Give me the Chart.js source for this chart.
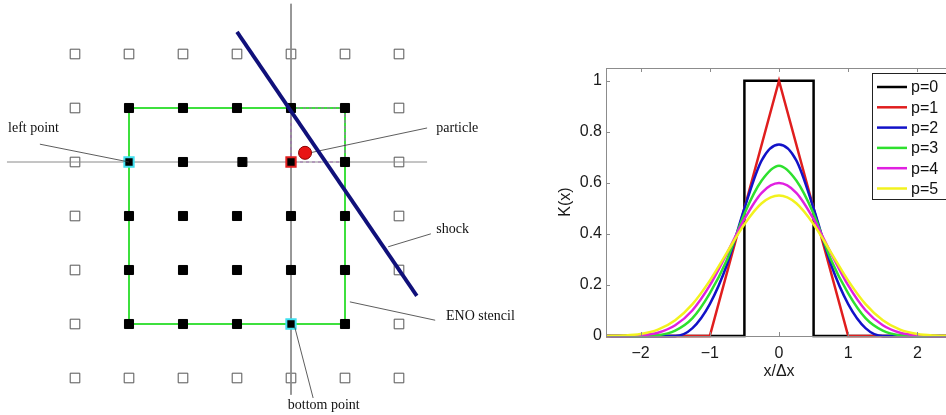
<!DOCTYPE html>
<html>
<head>
<meta charset="utf-8">
<script src="https://cdn.jsdelivr.net/npm/chart.js@4.4.1/dist/chart.umd.min.js"></script>
<style>
  html, body { margin: 0; padding: 0; background: #fff; overflow: hidden; }
  #wrap { position: relative; width: 946px; height: 415px; overflow: hidden; }
  #gridChart   { position: absolute; left: 0; top: 0; }
  #kernelChart { position: absolute; left: 540px; top: 0; }
</style>
</head>
<body>
<div id="wrap">
  <canvas id="gridChart" width="540" height="415"></canvas>
  <canvas id="kernelChart" width="420" height="415"></canvas>
</div>
<script>
// ---------------------------
// Left panel data (grid units: column i, row j, row 0 at top)
// ---------------------------
const ringNodes = [
  [0,0],[1,0],[2,0],[3,0],[4,0],[5,0],[6,0],
  [0,1],[6,1],[0,2],[6,2],[0,3],[6,3],[0,4],[6,4],[0,5],[6,5],
  [0,6],[1,6],[2,6],[3,6],[4,6],[5,6],[6,6]
];
const stencilNodes = [
  [1,1],[2,1],[3,1],[4,1],[5,1],
  [2,2],[3.1,2],[5,2],
  [1,3],[2,3],[3,3],[4,3],[5,3],
  [1,4],[2,4],[3,4],[4,4],[5,4],
  [1,5],[2,5],[3,5],[5,5]
];
const endNodes     = [[1,2],[4,5]];          // left point, bottom point
const cellNode     = [[4,2]];
const particlePos  = [[4.26,1.83]];
const stencilPath  = [[5,1],[1,1],[1,5],[5,5],[5,1]];
const cellPath     = [[4,2],[4,1],[5,1],[5,2],[4,2]];
const xAxisLine    = [[-1.26,2],[6.52,2]];
const yAxisLine    = [[4,-0.93],[4,6.31]];
const shockLine    = [[3.0,-0.41],[6.33,4.48]];
const leaders = [
  [[-0.65,1.67],[1,2]],
  [[4.35,1.83],[6.52,1.37]],
  [[5.80,3.57],[6.59,3.33]],
  [[5.09,4.59],[6.67,4.93]],
  [[4.07,5.06],[4.41,6.37]]
];
const gridLabels = [
  { text: "left point",   x: -1.24, y: 1.37 },
  { text: "particle",     x: 6.69,  y: 1.37 },
  { text: "shock",        x: 6.69,  y: 3.24 },
  { text: "ENO stencil",  x: 6.87,  y: 4.85 },
  { text: "bottom point", x: 3.94,  y: 6.50 }
];

// ---------------------------
// Right panel data: kernels K(x) vs x/dx
// ---------------------------
const kx  = [-2.5,-2.25,-2,-1.75,-1.5,-1.25,-1,-0.75,-0.5,-0.25,0,0.25,0.5,0.75,1,1.25,1.5,1.75,2,2.25,2.5];
const kP2 = [0,0,0,0,0,0.031,0.125,0.281,0.5,0.688,0.75,0.688,0.5,0.281,0.125,0.031,0,0,0,0,0];
const kP3 = [0,0,0,0.003,0.021,0.070,0.167,0.300,0.479,0.609,0.667,0.609,0.479,0.300,0.167,0.070,0.021,0.003,0,0,0];
const kP4 = [0,0.0002,0.003,0.013,0.042,0.101,0.198,0.325,0.458,0.561,0.599,0.561,0.458,0.325,0.198,0.101,0.042,0.013,0.003,0.0002,0];
const kP5 = [0.0003,0.002,0.008,0.025,0.062,0.125,0.217,0.328,0.438,0.520,0.550,0.520,0.438,0.328,0.217,0.125,0.062,0.025,0.008,0.002,0.0003];
const kP0x = [-2.5,-0.5,-0.5,0.5,0.5,2.5];
const kP0y = [0,0,1,1,0,0];
const kP1x = [-2.5,-1,0,1,2.5];
const kP1y = [0,0,1,0,0];

const xTicks      = [-2,-1,0,1,2];
const xTickLabels = ["\u22122","\u22121","0","1","2"];
const yTicks      = [0,0.2,0.4,0.6,0.8,1];
const yTickLabels = ["0","0.2","0.4","0.6","0.8","1"];

// ---------------------------
// Helpers
// ---------------------------
const pts = arr => arr.map(([x, y]) => ({ x, y }));
const zip = (xs, ys) => xs.map((x, i) => ({ x, y: ys[i] }));

function lineSet(data, color, width, dash) {
  return { data: pts(data), showLine: true, borderColor: color, borderWidth: width,
           borderDash: dash || [], pointRadius: 0, fill: false, tension: 0 };
}
function nodeSet(data, fill, stroke, width, r) {
  return { data: pts(data), pointStyle: "rect", pointRadius: r, backgroundColor: fill,
           borderColor: stroke, pointBorderWidth: width, showLine: false };
}

// ---------------------------
// Left panel chart
// ---------------------------
const gridLabelPlugin = {
  id: "gridLabels",
  afterDatasetsDraw(chart) {
    const { ctx, scales: { x, y } } = chart;
    ctx.save();
    ctx.font = "14px 'Liberation Serif', 'Times New Roman', serif";
    ctx.fillStyle = "#111";
    ctx.textAlign = "left";
    ctx.textBaseline = "middle";
    gridLabels.forEach(l => ctx.fillText(l.text, x.getPixelForValue(l.x), y.getPixelForValue(l.y)));
    ctx.restore();
  }
};

// listed top-most first (Chart.js draws dataset 0 last)
const gridDatasets = [
  { data: pts(particlePos), pointStyle: "circle", pointRadius: 6.5, backgroundColor: "#e81414",
    borderColor: "#8a0000", pointBorderWidth: 1 },
  lineSet(shockLine, "#10107a", 3.8),
  ...leaders.map(l => lineSet(l, "#333", 0.8)),
  nodeSet(cellNode, "#000", "#e02020", 2, 6.6),
  nodeSet(endNodes, "#000", "#40e0f0", 2, 6.6),
  nodeSet(stencilNodes, "#000", "#000", 1, 6.4),
  lineSet(cellPath, "#a070b0", 1.2, [3, 3]),
  lineSet(stencilPath, "#3ee03e", 2),
  lineSet(xAxisLine, "#8a8a8a", 1),
  lineSet(yAxisLine, "#8a8a8a", 1),
  nodeSet(ringNodes, "rgba(0,0,0,0)", "#555", 1, 6.8)
];

new Chart(document.getElementById("gridChart"), {
  type: "scatter",
  data: { datasets: gridDatasets },
  options: {
    responsive: false,
    animation: false,
    events: [],
    layout: { padding: 0, autoPadding: false },
    plugins: { legend: { display: false }, tooltip: { enabled: false } },
    scales: {
      x: { type: "linear", display: false, min: -75 / 54, max: (540 - 75) / 54 },
      y: { type: "linear", display: false, min: -1, max: (415 - 54) / 54, reverse: true }
    }
  },
  plugins: [gridLabelPlugin]
});

// ---------------------------
// Right panel chart
// ---------------------------
const frameAndTicks = {
  id: "frameAndTicks",
  afterDatasetsDraw(chart) {
    const { ctx, chartArea: a, scales: { x, y } } = chart;
    ctx.save();
    ctx.strokeStyle = "#8c8c8c";
    ctx.lineWidth = 1;
    ctx.strokeRect(a.left + 0.5, a.top + 0.5, a.right - a.left, a.bottom - a.top);
    ctx.beginPath();
    xTicks.forEach(v => {
      const px = Math.round(x.getPixelForValue(v)) + 0.5;
      ctx.moveTo(px, a.bottom); ctx.lineTo(px, a.bottom - 4);
      ctx.moveTo(px, a.top);    ctx.lineTo(px, a.top + 4);
    });
    yTicks.forEach(v => {
      const py = Math.round(y.getPixelForValue(v)) + 0.5;
      ctx.moveTo(a.left, py);  ctx.lineTo(a.left + 4, py);
      ctx.moveTo(a.right, py); ctx.lineTo(a.right - 4, py);
    });
    ctx.stroke();

    // legend box inside the axes, matlab style
    const bx = 332, by = 73, bw = 90, rowH = 20.3;
    ctx.fillStyle = "#fff";
    ctx.fillRect(bx, by, bw, 126);
    ctx.strokeStyle = "#222";
    ctx.strokeRect(bx + 0.5, by + 0.5, bw, 126);
    ctx.font = "16px 'Liberation Sans', Arial, sans-serif";
    ctx.textBaseline = "middle";
    ctx.textAlign = "left";
    chart.data.datasets.forEach((ds, i) => {
      const cy = by + 14 + i * rowH;
      ctx.strokeStyle = ds.borderColor;
      ctx.lineWidth = 2.5;
      ctx.beginPath();
      ctx.moveTo(bx + 5, cy); ctx.lineTo(bx + 35, cy);
      ctx.stroke();
      ctx.fillStyle = "#111";
      ctx.fillText(ds.label, bx + 39, cy + 1);
    });
    ctx.restore();
  }
};

const tickFont = { family: "'Liberation Sans', Arial, sans-serif", size: 16 };

new Chart(document.getElementById("kernelChart"), {
  type: "line",
  data: {
    datasets: [
      { label: "p=0", data: zip(kP0x, kP0y), borderColor: "#000000", tension: 0, order: 5 },
      { label: "p=1", data: zip(kP1x, kP1y), borderColor: "#e01e1e", tension: 0, order: 4 },
      { label: "p=2", data: zip(kx, kP2), borderColor: "#1212c8", cubicInterpolationMode: "monotone", order: 3 },
      { label: "p=3", data: zip(kx, kP3), borderColor: "#2ee02e", cubicInterpolationMode: "monotone", order: 2 },
      { label: "p=4", data: zip(kx, kP4), borderColor: "#e020e0", cubicInterpolationMode: "monotone", order: 1 },
      { label: "p=5", data: zip(kx, kP5), borderColor: "#f2f21e", cubicInterpolationMode: "monotone", order: 0 }
    ].map(d => Object.assign({ borderWidth: 2.5, pointRadius: 0, fill: false, clip: 4 }, d))
  },
  options: {
    responsive: false,
    animation: false,
    events: [],
    layout: { padding: { top: 68, right: 8, bottom: 0, left: 0 }, autoPadding: false },
    plugins: { legend: { display: false }, tooltip: { enabled: false } },
    scales: {
      x: {
        type: "linear", min: -2.5, max: 2.5,
        afterBuildTicks: s => { s.ticks = xTicks.map(v => ({ value: v })); },
        afterFit: s => { s.height = 79; },
        grid: { display: false, drawTicks: false },
        border: { display: false },
        ticks: { font: tickFont, color: "#1a1a1a", padding: 8, maxRotation: 0,
                 callback: (v, i) => xTickLabels[i] },
        title: { display: true, text: "x/\u0394x", font: tickFont, color: "#1a1a1a",
                 padding: { top: 0, bottom: 34 } }
      },
      y: {
        type: "linear", min: 0, max: 1.05,
        afterBuildTicks: s => { s.ticks = yTicks.map(v => ({ value: v })); },
        afterFit: s => { s.width = 66; },
        grid: { display: false, drawTicks: false },
        border: { display: false },
        ticks: { font: tickFont, color: "#1a1a1a", padding: 4,
                 callback: (v, i) => yTickLabels[i] },
        title: { display: true, text: "K(x)", font: tickFont, color: "#1a1a1a",
                 padding: { top: 16, bottom: 0 } }
      }
    }
  },
  plugins: [frameAndTicks]
});
</script>
</body>
</html>
